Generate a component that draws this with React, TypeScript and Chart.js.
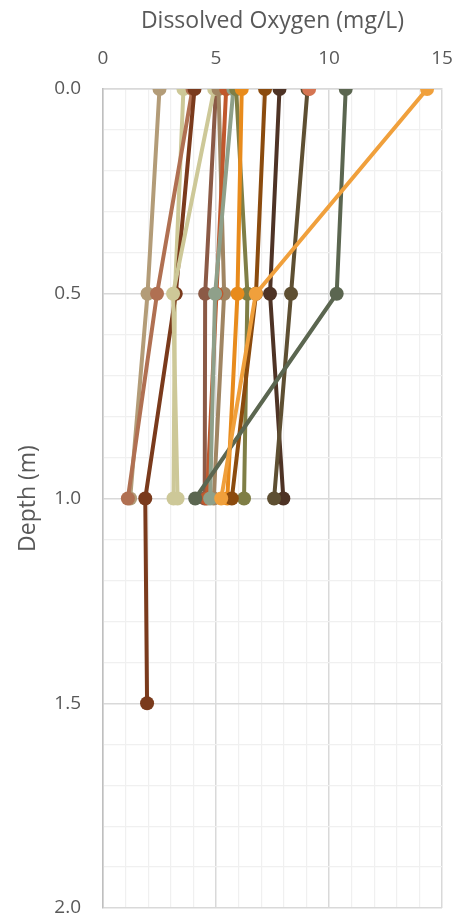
import React, { useEffect, useRef } from "react";
import { Chart, registerables } from "chart.js";

Chart.register(...registerables);

// Depths (m) at which each profile was sampled
const depths = [0, 0.5, 1.0, 1.5];

// Dissolved oxygen (mg/L) per profile, index matches depths
const seriesTan = [2.5, 1.97, 1.2];
const seriesKhakiA = [3.56, 3.18, 3.12];
const seriesTerracotta = [3.96, 2.39, 1.1];
const seriesRedBrown = [4.05, 3.22, 1.87, 1.95];
const seriesKhakiB = [4.92, 3.1, 3.3];
const seriesMidBrown = [5.0, 4.52, 4.5];
const seriesTanBrown = [5.11, 5.36, 4.9];
const seriesRust = [5.45, 5.02, 4.6];
const seriesGreyGreen = [5.77, 4.96, 4.74];
const seriesOlive = [5.89, 6.39, 6.24];
const seriesOrange = [6.14, 5.95, 5.5];
const seriesBrownOrange = [7.17, 6.77, 5.7];
const seriesDarkBrown = [7.81, 7.39, 7.98];
const seriesCoral = [9.12];
const seriesOliveBrown = [9.05, 8.32, 7.57];
const seriesSlate = [10.74, 10.34, 4.08];
const seriesLightOrange = [14.34, 6.76, 5.23];

const seriesList: { values: number[]; color: string }[] = [
  { values: seriesLightOrange, color: "#F0A03C" },
  { values: seriesSlate, color: "#5B6650" },
  { values: seriesCoral, color: "#D57552" },
  { values: seriesOliveBrown, color: "#5E4F32" },
  { values: seriesDarkBrown, color: "#4E3325" },
  { values: seriesBrownOrange, color: "#8B4B0E" },
  { values: seriesOrange, color: "#E88B1C" },
  { values: seriesOlive, color: "#7F7E46" },
  { values: seriesGreyGreen, color: "#8FA08A" },
  { values: seriesRust, color: "#C0582D" },
  { values: seriesTanBrown, color: "#A08562" },
  { values: seriesKhakiB, color: "#CDC898" },
  { values: seriesMidBrown, color: "#8B5A46" },
  { values: seriesRedBrown, color: "#7A3A1C" },
  { values: seriesTerracotta, color: "#B07052" },
  { values: seriesKhakiA, color: "#CDC898" },
  { values: seriesTan, color: "#B39C78" },
];

const xTitle = "Dissolved Oxygen (mg/L)";
const yTitle = "Depth (m)";

export default function App() {
  const ref = useRef<HTMLCanvasElement | null>(null);

  useEffect(() => {
    if (!ref.current) return;
    const textColor = "#595959";
    const font = "'Open Sans', 'Liberation Sans', sans-serif";
    const zeroPad = (scale: any) => {
      scale.paddingLeft = 0;
      scale.paddingRight = 0;
      scale.paddingTop = 0;
      scale.paddingBottom = 0;
    };
    const chart = new Chart(ref.current, {
      type: "line",
      data: {
        datasets: seriesList.map((s) => ({
          data: s.values.map((v, i) => ({ x: v, y: depths[i] })),
          borderColor: s.color,
          backgroundColor: s.color,
          borderWidth: 4,
          pointRadius: 7,
          pointHoverRadius: 7,
          pointBorderWidth: 0,
          pointBackgroundColor: s.color,
          tension: 0,
          fill: false,
        })),
      },
      options: {
        animation: false,
        responsive: true,
        maintainAspectRatio: false,
        layout: { padding: { left: 0, right: 14, top: 0, bottom: 8 } },
        plugins: {
          legend: { display: false },
          tooltip: { enabled: false },
        },
        scales: {
          x: {
            type: "linear",
            position: "top",
            min: 0,
            max: 15,
            afterFit: (scale: any) => {
              scale.height = 89;
              zeroPad(scale);
            },
            ticks: {
              stepSize: 1,
              autoSkip: false,
              maxRotation: 0,
              padding: 19,
              color: textColor,
              font: { family: font, size: 19 },
              callback: (value: any) =>
                Math.round(Number(value)) % 5 === 0 ? String(Math.round(Number(value))) : "",
            },
            grid: {
              drawTicks: false,
              color: (ctx: any) =>
                Math.round(ctx.tick.value) % 5 === 0 ? "#D9D9D9" : "#F0F0F0",
              lineWidth: (ctx: any) => (Math.round(ctx.tick.value) % 5 === 0 ? 1.5 : 1.2),
            },
            border: { display: true, color: "#D9D9D9", width: 1.5 },
            title: {
              display: true,
              text: xTitle,
              color: textColor,
              font: { family: font, size: 23 },
              padding: { top: 8, bottom: 0 },
            },
          },
          y: {
            type: "linear",
            reverse: true,
            min: 0,
            max: 2,
            afterFit: (scale: any) => {
              scale.width = 103;
              zeroPad(scale);
            },
            ticks: {
              stepSize: 0.1,
              autoSkip: false,
              padding: 22,
              color: textColor,
              font: { family: font, size: 19 },
              callback: (value: any) => {
                const t = Math.round(Number(value) * 10);
                return t % 5 === 0 ? (t / 10).toFixed(1) : "";
              },
            },
            grid: {
              drawTicks: false,
              color: (ctx: any) =>
                Math.round(ctx.tick.value * 10) % 5 === 0 ? "#D9D9D9" : "#F0F0F0",
              lineWidth: (ctx: any) =>
                Math.round(ctx.tick.value * 10) % 5 === 0 ? 1.5 : 1.2,
            },
            border: { display: true, color: "#BFBFBF", width: 1.5 },
            title: {
              display: true,
              text: yTitle,
              color: textColor,
              font: { family: font, size: 23 },
              padding: { top: 15, bottom: 0 },
            },
          },
        },
      },
    } as any);
    return () => chart.destroy();
  }, []);

  return (
    <div style={{ position: "absolute", left: 0, top: 0, width: 456, height: 916, background: "#fff" }}>
      <canvas ref={ref} />
    </div>
  );
}
